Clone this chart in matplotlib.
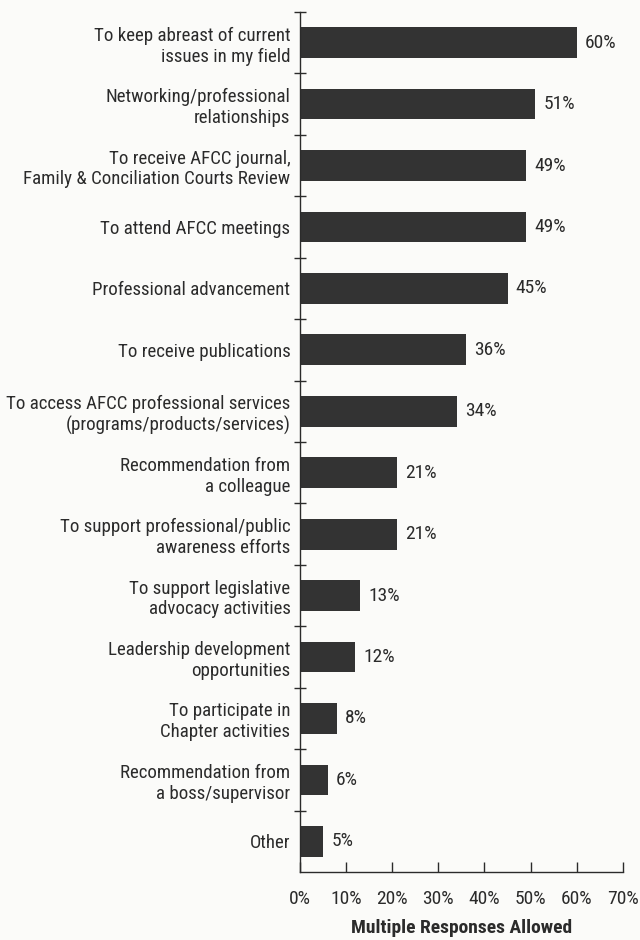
import matplotlib
matplotlib.use("Agg")
import matplotlib.pyplot as plt
from matplotlib.ticker import FixedLocator, FuncFormatter

reasons = [
    "To keep abreast of current\nissues in my field",
    "Networking/professional\nrelationships",
    "To receive AFCC journal,\nFamily & Conciliation Courts Review",
    "To attend AFCC meetings",
    "Professional advancement",
    "To receive publications",
    "To access AFCC professional services\n(programs/products/services)",
    "Recommendation from\na colleague",
    "To support professional/public\nawareness efforts",
    "To support legislative\nadvocacy activities",
    "Leadership development\nopportunities",
    "To participate in\nChapter activities",
    "Recommendation from\na boss/supervisor",
    "Other",
]
percent = [60, 51, 49, 49, 45, 36, 34, 21, 21, 13, 12, 8, 6, 5]
x_ticks = [0, 10, 20, 30, 40, 50, 60, 70]

plt.rcParams["font.family"] = ["Roboto Condensed", "DejaVu Sans"]
ink = "#2b2b2b"

fig = plt.figure(figsize=(6.4, 9.4), dpi=100, facecolor="#fbfbf9")
ax = fig.add_axes([0.469, 0.0723, 0.504, 0.915])
ax.set_facecolor("none")

pos = list(range(len(reasons)))
ax.barh(pos, percent, height=0.5, color="#333333")
for p, v in zip(pos, percent):
    # value label just right of each bar
    ax.text(v + 1.8, p, f"{v}%", va="center", ha="left", fontsize=14, color=ink)

ax.set_xlim(0, 70)
ax.set_ylim(len(reasons) - 0.5, -0.5)
ax.set_yticks(pos)
ax.set_yticklabels(reasons, fontsize=13.6, color=ink, linespacing=1.2)
ax.yaxis.set_minor_locator(FixedLocator([p - 0.5 for p in pos]))
ax.tick_params(axis="y", which="major", length=0, pad=7)
ax.tick_params(axis="y", which="minor", direction="inout", length=9, width=1, color=ink)

ax.set_xticks(x_ticks)
ax.xaxis.set_major_formatter(FuncFormatter(lambda v, _: f"{v:.0f}%"))
ax.tick_params(axis="x", direction="in", length=7, width=1, color=ink,
               labelsize=14, labelcolor=ink, pad=13)

for s in ["top", "right"]:
    ax.spines[s].set_visible(False)
for s in ["left", "bottom"]:
    ax.spines[s].set_color(ink)
    ax.spines[s].set_linewidth(1)

ax.set_xlabel("Multiple Responses Allowed", fontsize=14, fontweight="bold",
              color=ink, labelpad=8)

fig.savefig("out.png", dpi=100, facecolor=fig.get_facecolor())
